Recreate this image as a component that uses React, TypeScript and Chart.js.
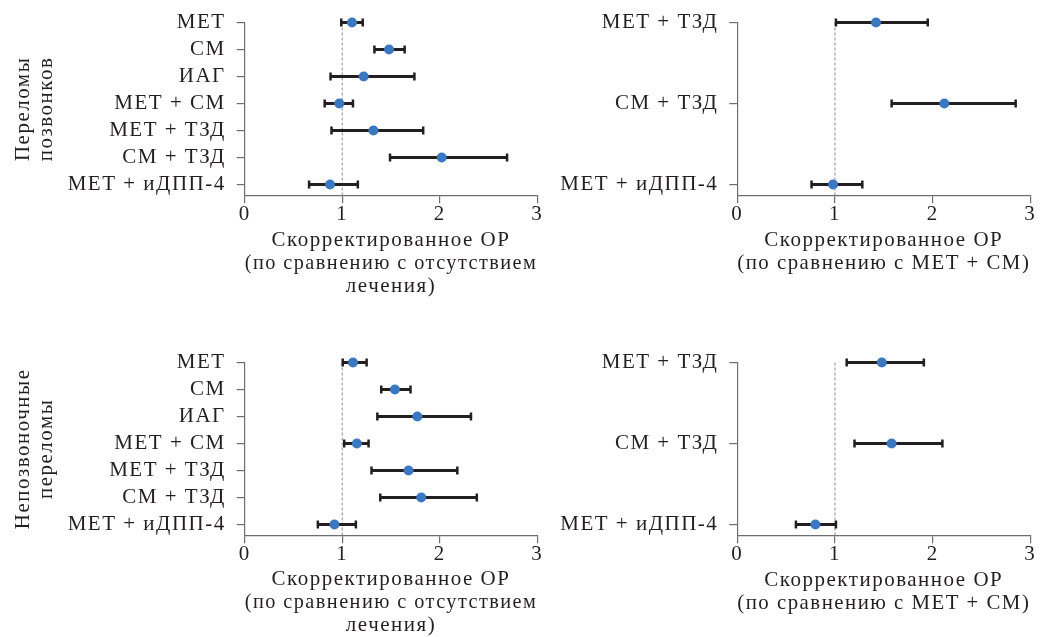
import React, { useEffect, useRef } from 'react';
import { Chart, registerables } from 'chart.js';

Chart.register(...registerables);

// ---------- data ----------
const leftCategories = ['МЕТ', 'СМ', 'ИАГ', 'МЕТ + СМ', 'МЕТ + ТЗД', 'СМ + ТЗД', 'МЕТ + иДПП-4'];
const leftRowPositions = [0, 1, 2, 3, 4, 5, 6];
const rightCategories = ['МЕТ + ТЗД', 'СМ + ТЗД', 'МЕТ + иДПП-4'];
const rightRowPositions = [0, 3, 6];

// Vertebral fractures vs no treatment
const vertebralOR = [1.10, 1.48, 1.22, 0.97, 1.32, 2.02, 0.875];
const vertebralLow = [0.99, 1.33, 0.88, 0.82, 0.89, 1.49, 0.66];
const vertebralHigh = [1.21, 1.64, 1.74, 1.11, 1.83, 2.69, 1.16];

// Vertebral fractures vs MET + SM
const vertebralVsOR = [1.42, 2.12, 0.98];
const vertebralVsLow = [1.01, 1.58, 0.76];
const vertebralVsHigh = [1.95, 2.85, 1.28];

// Non-vertebral fractures vs no treatment
const nonVertOR = [1.11, 1.54, 1.77, 1.15, 1.68, 1.81, 0.92];
const nonVertLow = [1.005, 1.40, 1.36, 1.02, 1.30, 1.39, 0.75];
const nonVertHigh = [1.25, 1.70, 2.32, 1.27, 2.18, 2.38, 1.14];

// Non-vertebral fractures vs MET + SM
const nonVertVsOR = [1.48, 1.58, 0.80];
const nonVertVsLow = [1.12, 1.20, 0.60];
const nonVertVsHigh = [1.91, 2.10, 1.01];

const xTicks = [0, 1, 2, 3];
const referenceValue = 1;
const titleNoTreatment = ['Скорректированное ОР', '(по сравнению с отсутствием', 'лечения)'];
const titleVsMetSm = ['Скорректированное ОР', '(по сравнению с МЕТ + СМ)'];
const groupVertebral = ['Переломы', 'позвонков'];
const groupNonVertebral = ['Непозвоночные', 'переломы'];

// ---------- styles ----------
const INK = '#231f20';
const AXIS = '#6d6e71';
const BLUE = '#3a79c1';
const DASH = '#8c8c8c';
const FONT = { family: "'Liberation Serif', 'Times New Roman', serif", size: 21, lineHeight: 23 / 21 };
const LETTER_SPACING = '1.5px';
const Y_MAX = 6.4;

const spacingPlugin = {
  id: 'letterSpacing',
  beforeInit(chart: any) {
    chart.ctx.letterSpacing = LETTER_SPACING;
  },
  beforeUpdate(chart: any) {
    chart.ctx.letterSpacing = LETTER_SPACING;
  },
  beforeDraw(chart: any) {
    chart.ctx.letterSpacing = LETTER_SPACING;
  },
};

type Box = { left: number; top: number; width: number; height: number };
type Area = { left: number; top: number; right: number; bottom: number };

type PanelProps = {
  box: Box;
  area: Area;
  categories: string[];
  positions: number[];
  or: number[];
  low: number[];
  high: number[];
  xTitle: string[];
  yTitle?: string[];
  lastTitleLine: number;
};

function Panel(props: PanelProps) {
  const ref = useRef<HTMLCanvasElement | null>(null);
  useEffect(() => {
    const { box, area, categories, positions, or, low, high, xTitle, yTitle, lastTitleLine } = props;
    const yWidth = area.left - box.left;
    const padTop = area.top - box.top;
    const padRight = box.left + box.width - area.right;
    const xHeight = box.top + box.height - area.bottom;
    const lh = FONT.size * FONT.lineHeight;
    const titlePadBottom = Math.max(0, box.top + box.height - lastTitleLine - lh / 2);

    const datasets: any[] = [
      {
        label: 'OR',
        data: positions.map((p, i) => ({ x: or[i], y: p })),
        showLine: false,
        pointRadius: 5,
        pointHoverRadius: 5,
        pointBackgroundColor: BLUE,
        pointBorderWidth: 0,
        clip: false,
      },
      ...positions.map((p, i) => ({
        label: 'CI ' + categories[i],
        data: [
          { x: low[i], y: p },
          { x: high[i], y: p },
        ],
        showLine: true,
        borderColor: INK,
        borderWidth: 3,
        pointStyle: 'line',
        pointRotation: 90,
        pointRadius: 4,
        pointHoverRadius: 4,
        pointBorderWidth: 2.5,
        pointBorderColor: INK,
        pointBackgroundColor: INK,
        clip: false,
      })),
      {
        label: 'ref',
        data: [
          { x: referenceValue, y: 0 },
          { x: referenceValue, y: Y_MAX },
        ],
        showLine: true,
        borderColor: DASH,
        borderWidth: 1,
        borderDash: [3, 2],
        pointRadius: 0,
        pointHoverRadius: 0,
        clip: false,
      },
    ];

    const chart = new Chart(ref.current as HTMLCanvasElement, {
      type: 'scatter',
      data: { datasets },
      plugins: [spacingPlugin],
      options: {
        animation: false,
        responsive: false,
        maintainAspectRatio: false,
        events: [],
        layout: { padding: { top: padTop, right: padRight, left: 0, bottom: 0 } },
        plugins: { legend: { display: false }, tooltip: { enabled: false }, title: { display: false } },
        scales: {
          x: {
            type: 'linear',
            min: 0,
            max: 3,
            afterBuildTicks: (s: any) => {
              s.ticks = xTicks.map((v) => ({ value: v }));
            },
            ticks: { font: FONT, color: INK, padding: 0, maxRotation: 0 },
            grid: { drawOnChartArea: false, drawTicks: true, tickLength: 8, color: AXIS, lineWidth: 1.2 },
            border: { display: true, color: AXIS, width: 1.2 },
            title: {
              display: true,
              text: xTitle,
              font: FONT,
              color: INK,
              padding: { top: 0, bottom: titlePadBottom },
            },
            afterFit: (s: any) => {
              s.height = xHeight;
            },
          },
          y: {
            type: 'linear',
            reverse: true,
            min: 0,
            max: Y_MAX,
            afterBuildTicks: (s: any) => {
              s.ticks = positions.map((v) => ({ value: v }));
            },
            ticks: {
              font: FONT,
              color: INK,
              padding: 11,
              callback: (_v: any, i: number) => categories[i] ?? '',
            },
            grid: { drawOnChartArea: false, drawTicks: true, tickLength: 8, color: AXIS, lineWidth: 1.2 },
            border: { display: true, color: AXIS, width: 1.2 },
            title: yTitle
              ? { display: true, text: yTitle, font: FONT, color: INK, padding: { top: 23 - lh / 2, bottom: 0 } }
              : { display: false },
            afterFit: (s: any) => {
              s.width = yWidth;
            },
          },
        },
      } as any,
    });
    return () => chart.destroy();
  }, []);

  const { box } = props;
  return (
    <canvas
      ref={ref}
      width={box.width}
      height={box.height}
      style={{ position: 'absolute', left: box.left, top: box.top, width: box.width, height: box.height, display: 'block' }}
    />
  );
}

export default function App() {
  return (
    <div style={{ position: 'absolute', left: 0, top: 0, width: 1051, height: 637, overflow: 'hidden', background: '#fff' }}>
      <Panel
        box={{ left: 0, top: 0, width: 555, height: 300 }}
        area={{ left: 244.7, top: 19.3, right: 537.3, bottom: 195.3 }}
        categories={leftCategories}
        positions={leftRowPositions}
        or={vertebralOR}
        low={vertebralLow}
        high={vertebralHigh}
        xTitle={titleNoTreatment}
        yTitle={groupVertebral}
        lastTitleLine={286}
      />
      <Panel
        box={{ left: 560, top: 0, width: 491, height: 300 }}
        area={{ left: 737.3, top: 19.3, right: 1030.3, bottom: 195.3 }}
        categories={rightCategories}
        positions={rightRowPositions}
        or={vertebralVsOR}
        low={vertebralVsLow}
        high={vertebralVsHigh}
        xTitle={titleVsMetSm}
        lastTitleLine={263}
      />
      <Panel
        box={{ left: 0, top: 340, width: 555, height: 297 }}
        area={{ left: 244.7, top: 359.3, right: 537.3, bottom: 535.3 }}
        categories={leftCategories}
        positions={leftRowPositions}
        or={nonVertOR}
        low={nonVertLow}
        high={nonVertHigh}
        xTitle={titleNoTreatment}
        yTitle={groupNonVertebral}
        lastTitleLine={625}
      />
      <Panel
        box={{ left: 560, top: 340, width: 491, height: 297 }}
        area={{ left: 737.3, top: 359.3, right: 1030.3, bottom: 535.3 }}
        categories={rightCategories}
        positions={rightRowPositions}
        or={nonVertVsOR}
        low={nonVertVsLow}
        high={nonVertVsHigh}
        xTitle={titleVsMetSm}
        lastTitleLine={603}
      />
    </div>
  );
}
